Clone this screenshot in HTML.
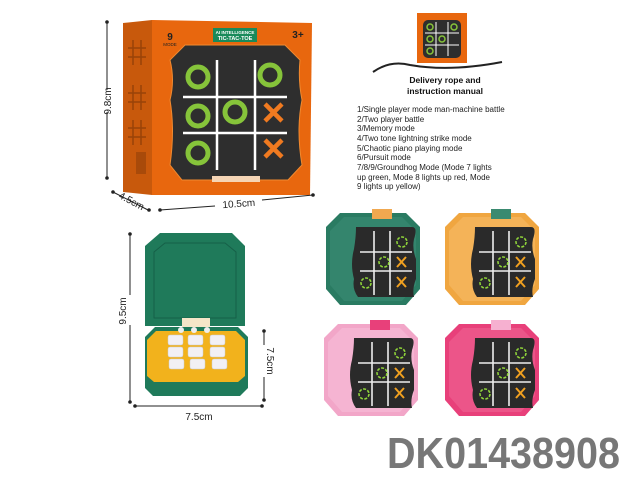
<!DOCTYPE html>
<html><head><meta charset="utf-8"><style>
html,body{margin:0;padding:0;background:#fff;width:640px;height:480px;overflow:hidden}
svg{display:block}
text{font-family:"Liberation Sans",sans-serif}
</style></head><body>
<svg width="640" height="480" viewBox="0 0 640 480" xmlns="http://www.w3.org/2000/svg">
<defs>
<g id="dev">
 <path d="M14 4 H80 L94 18 V80 L80 96 H14 L0 80 V18 Z" fill="var(--c)"/>
 <path d="M18 8 H76 L90 22 V76 L76 92 H18 L4 76 V22 Z" fill="var(--l)" opacity="0.5"/>
 <rect x="46" y="0" width="20" height="10" fill="var(--t)"/>
 <path d="M30 18 H86 Q92 18 88 30 Q86 40 90 50 V70 Q86 80 88 88 H32 Q26 80 28 70 Q24 55 28 40 Q30 28 30 18Z" fill="#2a2a2a"/>
 <g stroke="#eee" stroke-width="1.6"><line x1="48" y1="22" x2="48" y2="86"/><line x1="64" y1="22" x2="64" y2="86"/><line x1="34" y1="43" x2="86" y2="43"/><line x1="34" y1="62" x2="86" y2="62"/></g>
 <g fill="none" stroke="#8fd33a" stroke-width="1.6" stroke-dasharray="3 1.5"><circle cx="76" cy="33" r="5"/><circle cx="58" cy="53" r="5"/><circle cx="40" cy="74" r="5"/></g>
 <g stroke="#f0a020" stroke-width="2"><path d="M71 48 L80 58 M80 48 L71 58"/><path d="M71 68 L80 78 M80 68 L71 78"/></g>
</g>
</defs>
<!-- box -->
<path d="M123 23 L152 20 L152 195 L123 192Z" fill="#c8590c"/>
<path d="M152 20 L312 23 L310 195 L152 195Z" fill="#e8670e"/>
<g stroke="#7a3406" stroke-width="1.5" opacity="0.6"><path d="M133 40 V65 M141 40 V65 M128 48 H146 M128 57 H146 M133 85 V110 M141 85 V110 M128 93 H146 M128 102 H146 M133 120 V145 M141 120 V145 M128 128 H146 M128 137 H146"/></g>
<rect x="136" y="152" width="10" height="22" fill="#a84a0a"/>
<path d="M185 45 H285 L300 60 Q298 80 302 100 Q296 130 302 165 L288 180 H182 L170 165 Q175 130 170 100 Q175 80 170 60Z" fill="#2e2e2e" stroke="#f08a30" stroke-width="1"/>
<g stroke="#fff" stroke-width="2.5"><line x1="217" y1="60" x2="217" y2="170"/><line x1="255" y1="60" x2="255" y2="170"/><line x1="183" y1="97" x2="287" y2="97"/><line x1="183" y1="133" x2="287" y2="133"/></g>
<g fill="none" stroke="#86c43a" stroke-width="5"><circle cx="198" cy="77" r="10"/><circle cx="270" cy="75" r="10"/><circle cx="198" cy="116" r="10"/><circle cx="235" cy="112" r="10"/><circle cx="198" cy="153" r="10"/></g>
<g stroke="#f07a20" stroke-width="4.5"><path d="M265 104 L282 121 M282 104 L265 121 M265 140 L282 157 M282 140 L265 157"/></g>
<rect x="213" y="28" width="44" height="14" fill="#1a8a5a"/>
<text x="235" y="34" font-size="4.5" fill="#fff" text-anchor="middle" font-weight="bold">AI INTELLIGENCE</text>
<text x="235" y="40" font-size="5.5" fill="#fff" text-anchor="middle" font-weight="bold">TIC-TAC-TOE</text>
<text x="170" y="40" font-size="10" fill="#222" font-weight="bold" text-anchor="middle">9</text>
<text x="170" y="46" font-size="4.5" fill="#222" text-anchor="middle">MODE</text>
<text x="298" y="38" font-size="10" fill="#222" font-weight="bold" text-anchor="middle">3+</text>
<rect x="212" y="176" width="48" height="6" fill="#f5d5b5"/>
<!-- box dims -->
<g stroke="#222" stroke-width="1"><line x1="107" y1="22" x2="107" y2="90"/><line x1="107" y1="112" x2="107" y2="178"/><line x1="160" y1="210" x2="215" y2="206"/><line x1="262" y1="200" x2="313" y2="195"/><line x1="113" y1="192" x2="148" y2="210"/></g>
<g fill="#222"><circle cx="107" cy="22" r="1.8"/><circle cx="107" cy="178" r="1.8"/><circle cx="160" cy="210" r="1.8"/><circle cx="313" cy="195" r="1.8"/><circle cx="113" cy="192" r="1.8"/><circle cx="149" cy="210" r="1.8"/></g>
<text transform="translate(111 101) rotate(-90)" font-size="10" text-anchor="middle" fill="#222">9.8cm</text>
<text transform="translate(130 204) rotate(28)" font-size="10" text-anchor="middle" fill="#222">4.5cm</text>
<text transform="translate(239 207) rotate(-4)" font-size="10" text-anchor="middle" fill="#222">10.5cm</text>
<!-- manual & rope -->
<rect x="417" y="13" width="50" height="50" fill="#e8670e"/>
<rect x="423" y="20" width="38" height="38" rx="5" fill="#2e2e2e"/>
<g stroke="#fff" stroke-width="1"><line x1="436" y1="22" x2="436" y2="56"/><line x1="448" y1="22" x2="448" y2="56"/><line x1="425" y1="33" x2="459" y2="33"/><line x1="425" y1="45" x2="459" y2="45"/></g>
<g fill="none" stroke="#86c43a" stroke-width="1.5"><circle cx="430" cy="27" r="3"/><circle cx="454" cy="27" r="3"/><circle cx="430" cy="39" r="3"/><circle cx="442" cy="39" r="3"/><circle cx="430" cy="51" r="3"/></g>
<path d="M373 72 Q390 60 410 65 Q450 72 502 62" fill="none" stroke="#222" stroke-width="2"/>
<text x="445" y="83" font-size="8.5" font-weight="bold" text-anchor="middle" fill="#111">Delivery rope and</text>
<text x="445" y="94" font-size="8.5" font-weight="bold" text-anchor="middle" fill="#111">instruction manual</text>
<g font-size="8" fill="#222">
<text x="357" y="112">1/Single player mode man-machine battle</text>
<text x="357" y="122">2/Two player battle</text>
<text x="357" y="131">3/Memory mode</text>
<text x="357" y="141">4/Two tone lightning strike mode</text>
<text x="357" y="151">5/Chaotic piano playing mode</text>
<text x="357" y="160">6/Pursuit mode</text>
<text x="357" y="170">7/8/9/Groundhog Mode (Mode 7 lights</text>
<text x="357" y="180">up green, Mode 8 lights up red, Mode</text>
<text x="357" y="189">9 lights up yellow)</text>
</g>
<!-- open device -->
<path d="M160 233 H232 L245 246 V326 H145 V246Z" fill="#1f7a5a"/>
<path d="M165 243 H225 L236 252 V318 H154 V252Z" fill="none" stroke="#166048" stroke-width="1"/>
<rect x="182" y="318" width="28" height="12" fill="#f5e6c8"/>
<path d="M155 327 H238 L248 337 V388 L240 396 H153 L145 388 V337Z" fill="#1f7a5a"/>
<path d="M156 331 H236 L245 340 V376 L238 382 H154 L147 376 V340Z" fill="#f2b21c"/>
<g fill="#eee"><circle cx="181" cy="330" r="3"/><circle cx="194" cy="330" r="3"/><circle cx="207" cy="330" r="3"/></g>
<g fill="#f2f0f4" stroke="#ccc" stroke-width="0.5">
<rect x="168" y="335" width="15" height="10" rx="2"/><rect x="188" y="335" width="15" height="10" rx="2"/><rect x="210" y="335" width="15" height="10" rx="2"/>
<rect x="168" y="347" width="15" height="10" rx="2"/><rect x="188" y="347" width="15" height="10" rx="2"/><rect x="210" y="347" width="15" height="10" rx="2"/>
<rect x="169" y="359" width="15" height="10" rx="2"/><rect x="190" y="359" width="15" height="10" rx="2"/><rect x="212" y="359" width="15" height="10" rx="2"/>
</g>
<g stroke="#222" stroke-width="1"><line x1="130" y1="234" x2="130" y2="402"/><line x1="264" y1="331" x2="264" y2="400"/><line x1="135" y1="406" x2="262" y2="406"/></g>
<g fill="#222"><circle cx="130" cy="234" r="1.8"/><circle cx="130" cy="402" r="1.8"/><circle cx="264" cy="331" r="1.8"/><circle cx="264" cy="400" r="1.8"/><circle cx="135" cy="406" r="1.8"/><circle cx="262" cy="406" r="1.8"/></g>
<rect x="117" y="295" width="14" height="30" fill="#fff"/>
<text transform="translate(126 311) rotate(-90)" font-size="10" text-anchor="middle" fill="#222">9.5cm</text>
<rect x="263" y="345" width="12" height="32" fill="#fff"/>
<text transform="translate(267 361) rotate(90)" font-size="10" text-anchor="middle" fill="#222">7.5cm</text>
<text x="199" y="420" font-size="10" text-anchor="middle" fill="#222">7.5cm</text>
<!-- four devices -->
<use href="#dev" x="326" y="209" style="--c:#2a7b62;--l:#3d9078;--t:#f0a850"/>
<use href="#dev" x="445" y="209" style="--c:#f0a640;--l:#f7c070;--t:#3a8a70"/>
<use href="#dev" x="324" y="320" style="--c:#f2a6c8;--l:#f8c2dc;--t:#e8407a"/>
<use href="#dev" x="445" y="320" style="--c:#e8407a;--l:#f06a98;--t:#f6b0d0"/>
<text x="387" y="468" font-size="44" font-weight="bold" fill="#777" textLength="233" lengthAdjust="spacingAndGlyphs">DK01438908</text>
</svg>
</body></html>
